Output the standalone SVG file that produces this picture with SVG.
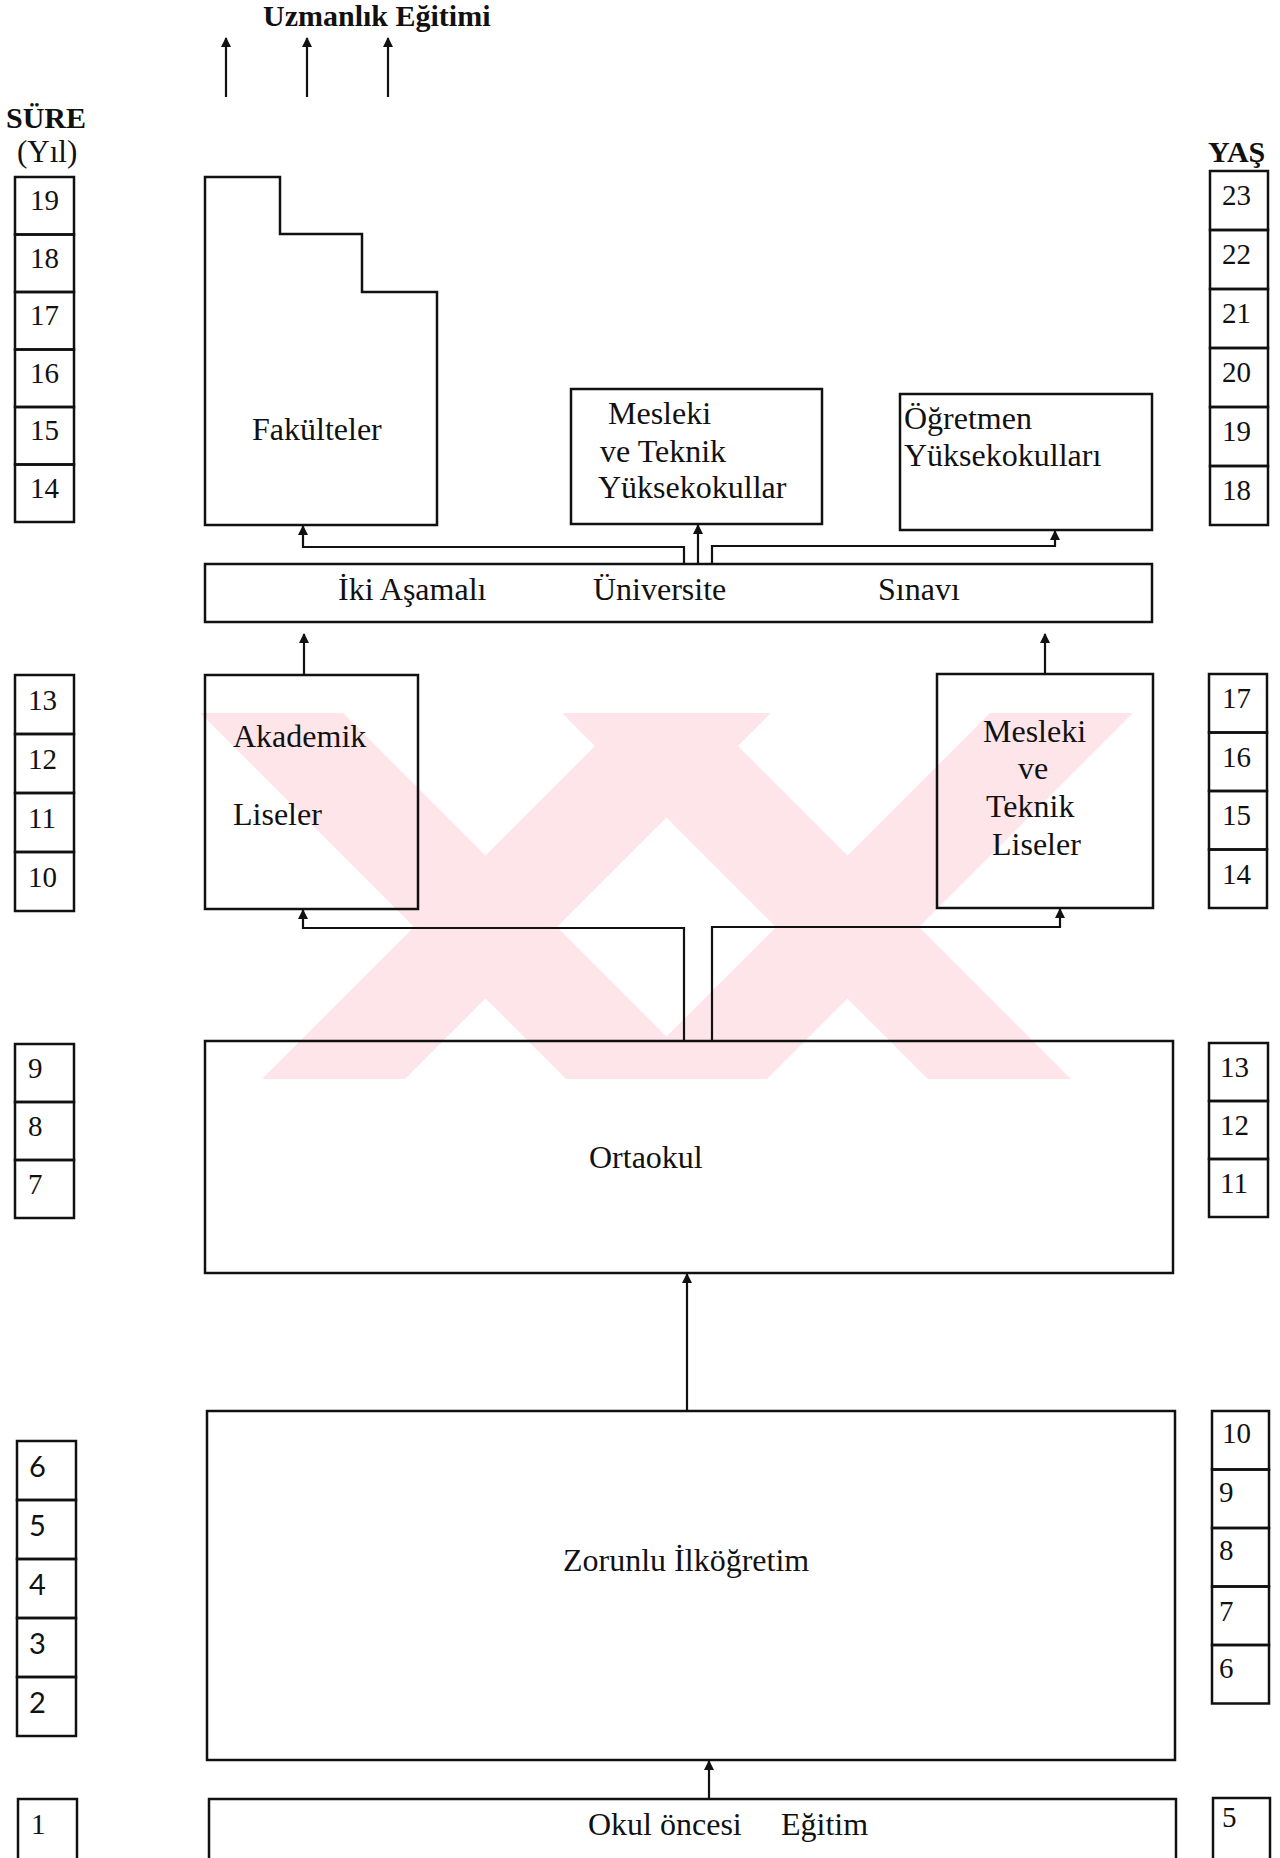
<svg xmlns="http://www.w3.org/2000/svg" width="1280" height="1858" viewBox="0 0 1280 1858">
<defs>
<style>
.t{font-family:"Liberation Serif","Times New Roman",serif;font-size:32px;fill:#111}
.d{font-family:"Liberation Serif","Times New Roman",serif;font-size:29px;fill:#111}
.s{font-family:Lato,"Open Sans",sans-serif;font-size:29px;fill:#111}
.h{font-family:"Liberation Serif","Times New Roman",serif;font-size:30px;font-weight:bold;fill:#111}
.b{fill:none;stroke:#111;stroke-width:2.5}
.c{fill:none;stroke:#111;stroke-width:2.2}
.wm{fill:#fde5e9}
</style>
<marker id="ah" markerWidth="10" markerHeight="10" refX="9" refY="5" orient="auto" markerUnits="userSpaceOnUse">
<path d="M0,0 L10,5 L0,10 z" fill="#111"/>
</marker>
</defs>
<rect width="1280" height="1858" fill="#fff"/>

<g id="watermark">
<polygon class="wm" points="200,713 343,713 709,1079 566,1079"/>
<polygon class="wm" points="990,713 1133,713 767,1079 624,1079"/>
<polygon class="wm" points="628,713 771,713 405,1079 262,1079"/>
<polygon class="wm" points="562,713 705,713 1071,1079 928,1079"/>
</g>

<g id="header">
<text class="h" x="263" y="26">Uzmanlık Eğitimi</text>
<text class="h" x="6" y="128">SÜRE</text>
<text class="t" x="17" y="162" style="font-size:31px">(Yıl)</text>
<text class="h" x="1208" y="162">YAŞ</text>
</g>

<g id="sure-column">
<rect class="b" x="15" y="177" width="59" height="57.5"/><text class="d" x="30" y="210">19</text>
<rect class="b" x="15" y="234.5" width="59" height="57.5"/><text class="d" x="30" y="268">18</text>
<rect class="b" x="15" y="292" width="59" height="57.5"/><text class="d" x="30" y="325">17</text>
<rect class="b" x="15" y="349.5" width="59" height="57.5"/><text class="d" x="30" y="383">16</text>
<rect class="b" x="15" y="407" width="59" height="57.5"/><text class="d" x="30" y="440">15</text>
<rect class="b" x="15" y="464.5" width="59" height="57.5"/><text class="d" x="30" y="498">14</text>

<rect class="b" x="15" y="675" width="59" height="59"/><text class="d" x="28" y="710">13</text>
<rect class="b" x="15" y="734" width="59" height="59"/><text class="d" x="28" y="769">12</text>
<rect class="b" x="15" y="793" width="59" height="59"/><text class="d" x="28" y="828">11</text>
<rect class="b" x="15" y="852" width="59" height="59"/><text class="d" x="28" y="887">10</text>

<rect class="b" x="15" y="1044" width="59" height="58"/><text class="d" x="28" y="1078">9</text>
<rect class="b" x="15" y="1102" width="59" height="58"/><text class="d" x="28" y="1136">8</text>
<rect class="b" x="15" y="1160" width="59" height="58"/><text class="d" x="28" y="1194">7</text>

<rect class="b" x="17" y="1441" width="59" height="59"/><text class="s" x="29" y="1477">6</text>
<rect class="b" x="17" y="1500" width="59" height="59"/><text class="s" x="29" y="1536">5</text>
<rect class="b" x="17" y="1559" width="59" height="59"/><text class="s" x="29" y="1595">4</text>
<rect class="b" x="17" y="1618" width="59" height="59"/><text class="s" x="29" y="1654">3</text>
<rect class="b" x="17" y="1677" width="59" height="59"/><text class="s" x="29" y="1713">2</text>

<rect class="b" x="18" y="1799" width="59" height="70"/><text class="d" x="31" y="1834">1</text>
</g>

<g id="yas-column">
<rect class="b" x="1210" y="171" width="58" height="59"/><text class="d" x="1222" y="205">23</text>
<rect class="b" x="1210" y="230" width="58" height="59"/><text class="d" x="1222" y="264">22</text>
<rect class="b" x="1210" y="289" width="58" height="59"/><text class="d" x="1222" y="323">21</text>
<rect class="b" x="1210" y="348" width="58" height="59"/><text class="d" x="1222" y="382">20</text>
<rect class="b" x="1210" y="407" width="58" height="59"/><text class="d" x="1222" y="441">19</text>
<rect class="b" x="1210" y="466" width="58" height="59"/><text class="d" x="1222" y="500">18</text>

<rect class="b" x="1209" y="674" width="58" height="58.5"/><text class="d" x="1222" y="708">17</text>
<rect class="b" x="1209" y="732.5" width="58" height="58.5"/><text class="d" x="1222" y="767">16</text>
<rect class="b" x="1209" y="791" width="58" height="58.5"/><text class="d" x="1222" y="825">15</text>
<rect class="b" x="1209" y="849.5" width="58" height="58.5"/><text class="d" x="1222" y="884">14</text>

<rect class="b" x="1209" y="1043" width="59" height="58"/><text class="d" x="1220" y="1077">13</text>
<rect class="b" x="1209" y="1101" width="59" height="58"/><text class="d" x="1220" y="1135">12</text>
<rect class="b" x="1209" y="1159" width="59" height="58"/><text class="d" x="1220" y="1193">11</text>

<rect class="b" x="1212" y="1411" width="57" height="58.5"/><text class="d" x="1222" y="1443">10</text>
<rect class="b" x="1212" y="1469.5" width="57" height="58.5"/><text class="d" x="1219" y="1502">9</text>
<rect class="b" x="1212" y="1528" width="57" height="58.5"/><text class="d" x="1219" y="1560">8</text>
<rect class="b" x="1212" y="1586.5" width="57" height="58.5"/><text class="d" x="1219" y="1621">7</text>
<rect class="b" x="1212" y="1645" width="57" height="58.5"/><text class="d" x="1219" y="1678">6</text>

<rect class="b" x="1213" y="1798" width="57" height="70"/><text class="d" x="1222" y="1827">5</text>
</g>

<g id="fakulteler">
<path class="b" d="M205,525 L205,177 L280,177 L280,234 L362,234 L362,292 L437,292 L437,525 Z"/>
<text class="t" x="252" y="440">Fakülteler</text>
</g>

<g id="meslek-yuksekokul">
<rect class="b" x="571" y="389" width="251" height="135"/>
<text class="t" x="608" y="424">Mesleki</text>
<text class="t" x="600" y="462">ve Teknik</text>
<text class="t" x="598" y="498">Yüksekokullar</text>
</g>

<g id="ogretmen">
<rect class="b" x="900" y="394" width="252" height="136"/>
<text class="t" x="904" y="429">Öğretmen</text>
<text class="t" x="904" y="466">Yüksekokulları</text>
</g>

<g id="sinav">
<rect class="b" x="205" y="564" width="947" height="58"/>
<text class="t" x="338" y="600">İki Aşamalı</text>
<text class="t" x="593" y="600">Üniversite</text>
<text class="t" x="878" y="600">Sınavı</text>
</g>

<g id="akademik">
<rect class="b" x="205" y="675" width="213" height="234"/>
<text class="t" x="233" y="747">Akademik</text>
<text class="t" x="233" y="825">Liseler</text>
</g>

<g id="meslek-lise">
<rect class="b" x="937" y="674" width="216" height="234"/>
<text class="t" x="983" y="742">Mesleki</text>
<text class="t" x="1018" y="779">ve</text>
<text class="t" x="986" y="817">Teknik</text>
<text class="t" x="992" y="855">Liseler</text>
</g>

<g id="ortaokul">
<rect class="b" x="205" y="1041" width="968" height="232"/>
<text class="t" x="589" y="1168">Ortaokul</text>
</g>

<g id="ilkogretim">
<rect class="b" x="207" y="1411" width="968" height="349"/>
<text class="t" x="563" y="1571">Zorunlu İlköğretim</text>
</g>

<g id="okuloncesi">
<rect class="b" x="209" y="1799" width="967" height="70"/>
<text class="t" x="588" y="1835">Okul öncesi</text>
<text class="t" x="781" y="1835">Eğitim</text>
</g>

<g id="connectors">
<line class="c" x1="226" y1="97" x2="226" y2="38" marker-end="url(#ah)"/>
<line class="c" x1="307" y1="97" x2="307" y2="38" marker-end="url(#ah)"/>
<line class="c" x1="388" y1="97" x2="388" y2="38" marker-end="url(#ah)"/>

<polyline class="c" points="684,564 684,547 303,547 303,526" marker-end="url(#ah)"/>
<line class="c" x1="698" y1="564" x2="698" y2="525" marker-end="url(#ah)"/>
<polyline class="c" points="712,564 712,546 1055,546 1055,531" marker-end="url(#ah)"/>

<line class="c" x1="304" y1="675" x2="304" y2="634" marker-end="url(#ah)"/>
<line class="c" x1="1045" y1="674" x2="1045" y2="634" marker-end="url(#ah)"/>

<polyline class="c" points="684,1041 684,928 303,928 303,910" marker-end="url(#ah)"/>
<polyline class="c" points="712,1041 712,927 1060,927 1060,909" marker-end="url(#ah)"/>

<line class="c" x1="687" y1="1411" x2="687" y2="1274" marker-end="url(#ah)"/>
<line class="c" x1="709" y1="1799" x2="709" y2="1761" marker-end="url(#ah)"/>
</g>
</svg>
